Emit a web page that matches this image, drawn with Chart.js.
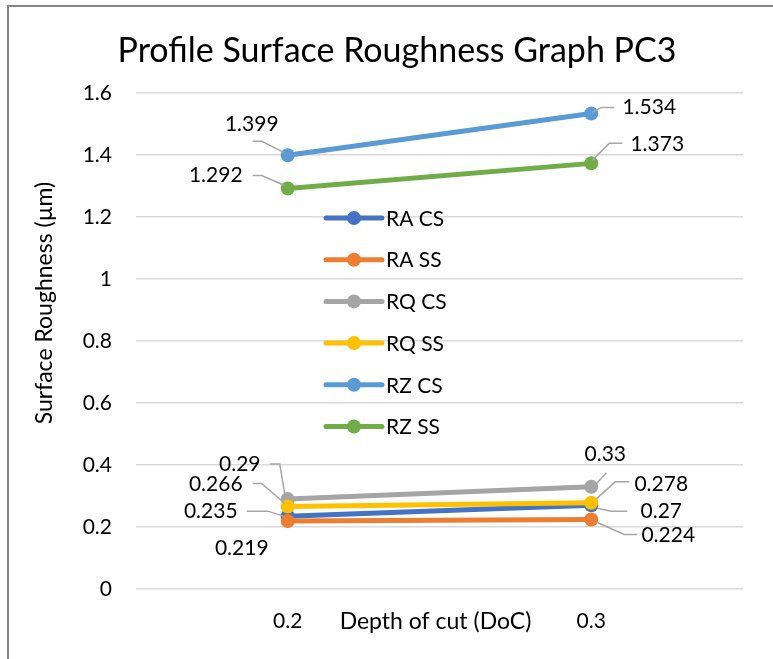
<!DOCTYPE html>
<html lang="en">
<head>
    <meta charset="UTF-8">
    <title>Profile Surface Roughness Graph PC3</title>
    <script src="https://cdn.jsdelivr.net/npm/chart.js"></script>
    <style>
        html, body {
            margin: 0;
            padding: 0;
            background: #fff;
        }
        .chart-box {
            position: relative;
            width: 773px;
            height: 659px;
        }
    </style>
</head>
<body>

    <div class="chart-box">
        <canvas id="roughChart"></canvas>
    </div>

    <script>
        // Depth of cut categories and measured roughness per series
        const depthOfCut = ['0.2', '0.3'];
        const seriesNames = ['RA CS', 'RA SS', 'RQ CS', 'RQ SS', 'RZ CS', 'RZ SS'];
        const raCS = [0.235, 0.27];
        const raSS = [0.219, 0.224];
        const rqCS = [0.29, 0.33];
        const rqSS = [0.266, 0.278];
        const rzCS = [1.399, 1.534];
        const rzSS = [1.292, 1.373];
        const yTickValues = [0, 0.2, 0.4, 0.6, 0.8, 1, 1.2, 1.4, 1.6];

        const seriesValues = [raCS, raSS, rqCS, rqSS, rzCS, rzSS];
        const seriesColors = ['#4472C4', '#ED7D31', '#A5A5A5', '#FFC000', '#5B9BD5', '#70AD47'];

        const FONT = 'Lato, "Open Sans", sans-serif';

        // label placement for each point: text centre offset and leader path (relative to the point)
        const labelPlacement = [
            [{ dx: -77, dy: -5, path: [[-4, 0], [-20, -5], [-41, -5]] },
             { dx: 70, dy: 6, path: [[6, 3], [20, 6], [36, 6]] }],
            [{ dx: -46, dy: 27, path: null },
             { dx: 77, dy: 16, path: [[6, 3], [33, 15], [46, 15]] }],
            [{ dx: -48, dy: -35, path: [[-3, -5], [-8, -35], [-18, -35]] },
             { dx: 14, dy: -32, path: [[6, -4], [15, -14]] }],
            [{ dx: -72, dy: -22, path: [[-3, -3], [-26, -23], [-35, -23]] },
             { dx: 70, dy: -19, path: [[5, -4], [24, -21], [38, -21]] }],
            [{ dx: -36, dy: -31, path: [[-4, -3], [-26, -14], [-35, -14]] },
             { dx: 58, dy: -6, path: [[1, -1], [10, -6], [23, -6]] }],
            [{ dx: -72, dy: -13, path: [[-3, -3], [-26, -13], [-35, -13]] },
             { dx: 66, dy: -19, path: [[1, -3], [18, -20], [31, -20]] }]
        ];

        // value labels with grey leader lines
        const valueLabels = {
            id: 'valueLabels',
            afterDatasetsDraw(chart) {
                const ctx = chart.ctx;
                ctx.save();
                chart.data.datasets.forEach((ds, i) => {
                    const meta = chart.getDatasetMeta(i);
                    meta.data.forEach((pt, j) => {
                        const place = labelPlacement[i][j];
                        if (place.path) {
                            ctx.beginPath();
                            ctx.strokeStyle = '#a6a6a6';
                            ctx.lineWidth = 1.5;
                            place.path.forEach(([px, py], k) => {
                                if (k === 0) ctx.moveTo(pt.x + px, pt.y + py);
                                else ctx.lineTo(pt.x + px, pt.y + py);
                            });
                            ctx.stroke();
                        }
                        ctx.fillStyle = '#000';
                        ctx.font = '21px ' + FONT;
                        ctx.textAlign = 'center';
                        ctx.textBaseline = 'middle';
                        ctx.fillText(String(ds.data[j]), pt.x + place.dx, pt.y + place.dy);
                    });
                });
                ctx.restore();
            }
        };

        // legend inside the plot, one row per series
        const insideLegend = {
            id: 'insideLegend',
            afterDraw(chart) {
                const ctx = chart.ctx;
                const x0 = chart.chartArea.left + 190;
                const y0 = chart.chartArea.top + 125;
                ctx.save();
                seriesNames.forEach((name, i) => {
                    const y = y0 + i * 41.7;
                    ctx.strokeStyle = seriesColors[i];
                    ctx.lineWidth = 5;
                    ctx.lineCap = 'round';
                    ctx.beginPath();
                    ctx.moveTo(x0, y);
                    ctx.lineTo(x0 + 56, y);
                    ctx.stroke();
                    ctx.fillStyle = seriesColors[i];
                    ctx.beginPath();
                    ctx.arc(x0 + 28, y, 7, 0, Math.PI * 2);
                    ctx.fill();
                    ctx.fillStyle = '#000';
                    ctx.font = '21px ' + FONT;
                    ctx.textAlign = 'left';
                    ctx.textBaseline = 'middle';
                    ctx.fillText(name, x0 + 60, y + 1);
                });
                ctx.restore();
            }
        };

        // chart title, axis titles and the outer frame
        const frameAndTitles = {
            id: 'frameAndTitles',
            afterDraw(chart) {
                const ctx = chart.ctx;
                const area = chart.chartArea;
                ctx.save();
                ctx.strokeStyle = '#858585';
                ctx.lineWidth = 2;
                ctx.strokeRect(8, 6, 900, 800);

                ctx.fillStyle = '#000';
                ctx.textAlign = 'center';
                ctx.textBaseline = 'middle';
                ctx.font = '34px ' + FONT;
                ctx.fillText('Profile Surface Roughness Graph PC3', 397, 51);

                ctx.font = '23px ' + FONT;
                ctx.fillText('Depth of cut (DoC)', (area.left + area.right) / 2 - 4, 622);

                ctx.translate(45, 303);
                ctx.rotate(-Math.PI / 2);
                ctx.fillText('Surface Roughness (µm)', 0, 0);
                ctx.restore();
            }
        };

        const datasets = seriesNames.map((name, i) => ({
            label: name,
            data: seriesValues[i],
            borderColor: seriesColors[i],
            backgroundColor: seriesColors[i],
            pointBackgroundColor: seriesColors[i],
            pointBorderColor: seriesColors[i],
            borderWidth: 5,
            pointRadius: 7,
            pointBorderWidth: 0,
            tension: 0,
            order: seriesNames.length - 1 - i
        }));

        const chartCtx = document.getElementById('roughChart').getContext('2d');
        const roughChart = new Chart(chartCtx, {
            type: 'line',
            data: {
                labels: depthOfCut,
                datasets: datasets
            },
            options: {
                responsive: true,
                maintainAspectRatio: false,
                animation: false,
                layout: {
                    padding: { top: 93, right: 30, bottom: 0, left: 0 }
                },
                plugins: {
                    legend: { display: false },
                    title: { display: false },
                    tooltip: { enabled: false }
                },
                scales: {
                    x: {
                        offset: true,
                        grid: { display: false, drawTicks: false },
                        border: { display: false },
                        ticks: {
                            color: '#000',
                            font: { family: FONT, size: 21 },
                            padding: 20
                        },
                        afterFit: scale => { scale.height = 70; }
                    },
                    y: {
                        min: 0,
                        max: 1.6,
                        grid: { color: '#d9d9d9', lineWidth: 1.5, drawTicks: false },
                        border: { display: false },
                        afterBuildTicks: scale => {
                            scale.ticks = yTickValues.map(v => ({ value: v }));
                        },
                        ticks: {
                            color: '#000',
                            font: { family: FONT, size: 21 },
                            padding: 24,
                            callback: v => String(+v.toFixed(1))
                        },
                        afterFit: scale => { scale.width = 136; }
                    }
                }
            },
            plugins: [valueLabels, insideLegend, frameAndTitles]
        });
    </script>

</body>
</html>
